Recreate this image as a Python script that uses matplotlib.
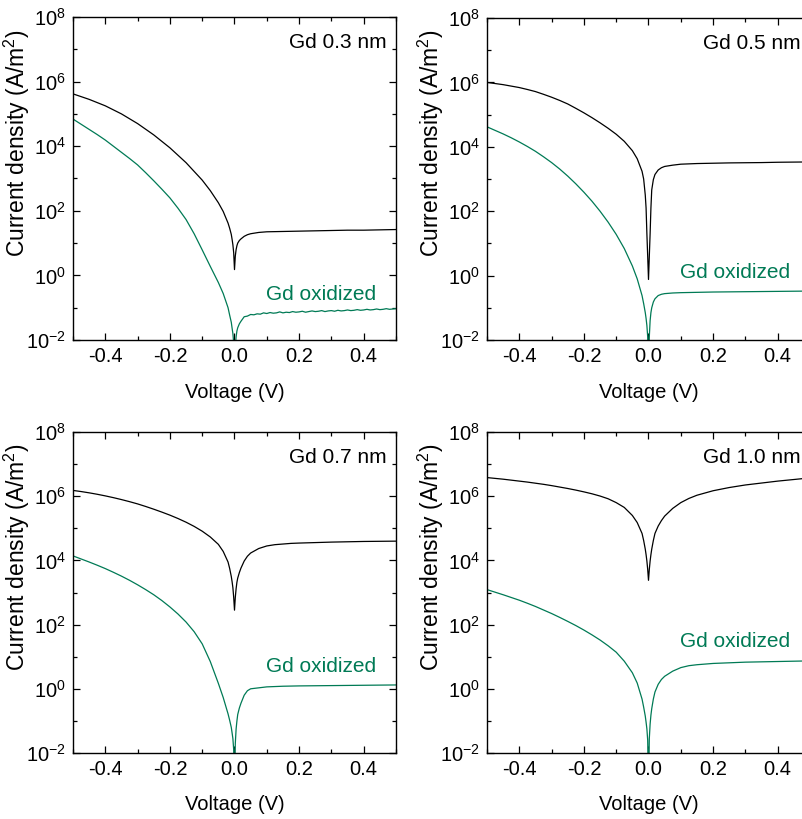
import numpy as np
import matplotlib.pyplot as plt
from matplotlib.ticker import FixedLocator, FixedFormatter, MultipleLocator, FormatStrFormatter, NullFormatter

plt.rcParams['font.family'] = ['Liberation Sans', 'DejaVu Sans']
plt.rcParams['mathtext.fontset'] = 'custom'
plt.rcParams['mathtext.rm'] = 'Liberation Sans'
plt.rcParams['mathtext.it'] = 'Liberation Sans:italic'
plt.rcParams['mathtext.default'] = 'regular'

GREEN = '#007A55'

# Bias voltage (V), shared by most curves
voltage = [-0.5, -0.475, -0.45, -0.425, -0.4, -0.375, -0.35, -0.325, -0.3, -0.275,
           -0.25, -0.225, -0.2, -0.175, -0.15, -0.125, -0.1, -0.075, -0.05, -0.035,
           -0.02, -0.015, -0.01, -0.0075, -0.005, -0.0025, 0.0,
           0.0025, 0.005, 0.0075, 0.01, 0.015, 0.02, 0.03, 0.04, 0.05, 0.075,
           0.1, 0.125, 0.15, 0.175, 0.2, 0.25, 0.3, 0.35, 0.4, 0.45, 0.5]

# log10 of current density (A/m^2)
log_j_03 = [5.62, 5.535, 5.45, 5.35, 5.25, 5.125, 5.00, 4.85, 4.70, 4.525,
            4.35, 4.15, 3.95, 3.72, 3.49, 3.22, 2.95, 2.625, 2.25, 1.98,
            1.62, 1.46, 1.27, 1.12, 0.95, 0.70, 0.18,
            0.60, 0.80, 0.92, 1.00, 1.08, 1.13, 1.21, 1.26, 1.29, 1.33,
            1.35, 1.355, 1.36, 1.365, 1.37, 1.38, 1.39, 1.40, 1.40, 1.41, 1.42]

# Gd 0.3 nm oxidized sample: finer, noisier sweep on the positive side
voltage_ox_03 = [-0.5, -0.475, -0.45, -0.425, -0.4, -0.375, -0.35, -0.325, -0.3, -0.275,
                 -0.25, -0.225, -0.2, -0.175, -0.15, -0.125, -0.1, -0.075, -0.05, -0.035,
                 -0.02, -0.015, -0.01, -0.0075, -0.005, -0.0025, 0.0,
                 0.0025, 0.005, 0.0075, 0.01, 0.015, 0.02,
                 0.03, 0.04, 0.05, 0.06, 0.07, 0.08, 0.09, 0.10, 0.11, 0.12,
                 0.13, 0.14, 0.15, 0.16, 0.17, 0.18, 0.19, 0.20, 0.21, 0.22,
                 0.23, 0.24, 0.25, 0.26, 0.27, 0.28, 0.29, 0.30, 0.31, 0.32,
                 0.33, 0.34, 0.35, 0.36, 0.37, 0.38, 0.39, 0.40, 0.41, 0.42,
                 0.43, 0.44, 0.45, 0.46, 0.47, 0.48, 0.49, 0.50]
log_j_ox_03 = [4.84, 4.68, 4.52, 4.36, 4.19, 4.00, 3.81, 3.62, 3.42, 3.18,
               2.93, 2.67, 2.40, 2.08, 1.73, 1.29, 0.79, 0.28, -0.22, -0.56,
               -1.00, -1.23, -1.45, -1.63, -1.80, -2.10, -2.60,
               -2.20, -1.90, -1.72, -1.62, -1.50, -1.42,
               -1.28, -1.26, -1.21, -1.22, -1.19, -1.20, -1.16, -1.18, -1.15, -1.17,
               -1.16, -1.13, -1.16, -1.14, -1.15, -1.12, -1.14, -1.13, -1.11, -1.14,
               -1.12, -1.10, -1.12, -1.11, -1.09, -1.12, -1.10, -1.09, -1.11, -1.08,
               -1.10, -1.09, -1.07, -1.09, -1.08, -1.06, -1.08, -1.07, -1.05, -1.07,
               -1.06, -1.04, -1.06, -1.05, -1.03, -1.05, -1.04, -1.03]

log_j_05 = [6.00, 5.965, 5.93, 5.885, 5.84, 5.78, 5.715, 5.63, 5.54, 5.44,
            5.33, 5.195, 5.055, 4.905, 4.745, 4.575, 4.39, 4.17, 3.88, 3.63,
            3.24, 3.00, 2.50, 2.10, 1.30, 0.60, -0.12,
            0.60, 1.30, 2.10, 2.66, 2.98, 3.14, 3.28, 3.35, 3.39, 3.43,
            3.46, 3.47, 3.48, 3.485, 3.49, 3.50, 3.505, 3.51, 3.52, 3.525, 3.53]
log_j_ox_05 = [4.62, 4.51, 4.40, 4.28, 4.15, 4.01, 3.86, 3.69, 3.51, 3.31,
               3.09, 2.85, 2.59, 2.31, 2.00, 1.66, 1.28, 0.84, 0.30, -0.10,
               -0.62, -0.87, -1.15, -1.33, -1.55, -1.90, -3.00,
               -1.90, -1.40, -1.15, -1.00, -0.82, -0.72, -0.62, -0.58, -0.56, -0.54,
               -0.53, -0.525, -0.52, -0.515, -0.51, -0.505, -0.50, -0.495, -0.49, -0.485, -0.48]

log_j_07 = [6.18, 6.145, 6.105, 6.06, 6.01, 5.955, 5.895, 5.83, 5.76, 5.68,
            5.595, 5.505, 5.41, 5.305, 5.19, 5.06, 4.91, 4.73, 4.50, 4.28,
            3.95, 3.75, 3.50, 3.34, 3.15, 2.85, 2.45,
            2.85, 3.12, 3.32, 3.45, 3.62, 3.76, 3.98, 4.13, 4.23, 4.37,
            4.45, 4.49, 4.51, 4.53, 4.54, 4.555, 4.57, 4.58, 4.59, 4.595, 4.60]
log_j_ox_07 = [4.14, 4.045, 3.95, 3.85, 3.745, 3.63, 3.51, 3.38, 3.24, 3.09,
               2.93, 2.75, 2.55, 2.33, 2.08, 1.78, 1.40, 0.85, 0.17, -0.27,
               -0.78, -0.98, -1.20, -1.37, -1.55, -1.90, -3.00,
               -1.70, -1.25, -1.00, -0.80, -0.60, -0.45, -0.20, -0.06, 0.00, 0.03,
               0.06, 0.07, 0.08, 0.085, 0.09, 0.095, 0.10, 0.105, 0.11, 0.115, 0.12]

log_j_10 = [6.58, 6.555, 6.53, 6.50, 6.47, 6.44, 6.405, 6.37, 6.33, 6.285,
            6.24, 6.19, 6.135, 6.075, 6.005, 5.92, 5.80, 5.65, 5.40, 5.18,
            4.84, 4.62, 4.35, 4.18, 3.98, 3.72, 3.38,
            3.72, 3.98, 4.18, 4.35, 4.62, 4.84, 5.07, 5.24, 5.38, 5.62,
            5.80, 5.93, 6.03, 6.10, 6.17, 6.27, 6.35, 6.41, 6.47, 6.52, 6.57]
log_j_ox_10 = [3.09, 3.01, 2.93, 2.845, 2.76, 2.665, 2.565, 2.455, 2.345, 2.225,
               2.10, 1.97, 1.83, 1.68, 1.52, 1.34, 1.14, 0.86, 0.50, 0.18,
               -0.32, -0.57, -0.85, -1.04, -1.25, -1.60, -3.00,
               -1.55, -1.10, -0.82, -0.62, -0.32, -0.10, 0.14, 0.29, 0.39, 0.55,
               0.66, 0.72, 0.75, 0.77, 0.79, 0.81, 0.83, 0.84, 0.85, 0.86, 0.87]

thickness_labels = ['Gd 0.3 nm', 'Gd 0.5 nm', 'Gd 0.7 nm', 'Gd 1.0 nm']
oxidized_label_y = [0.142, 0.209, 0.268, 0.346]

y_major = [1e-2, 1e0, 1e2, 1e4, 1e6, 1e8]
y_major_labels = [r'$10^{-2}$', r'$10^{0}$', r'$10^{2}$', r'$10^{4}$', r'$10^{6}$', r'$10^{8}$']
y_minor = [1e-1, 1e1, 1e3, 1e5, 1e7]

panels = [
    (voltage, log_j_03, voltage_ox_03, log_j_ox_03),
    (voltage, log_j_05, voltage, log_j_ox_05),
    (voltage, log_j_07, voltage, log_j_ox_07),
    (voltage, log_j_10, voltage, log_j_ox_10),
]

W, H = 803, 819
fig = plt.figure(figsize=(W / 100, H / 100), dpi=100)

# axes boxes in pixels: left, top, width, height (right column runs past the edge)
boxes = [(73, 17, 323, 323), (487, 18, 323, 322), (73, 432, 323, 321), (487, 432, 323, 321)]

for i, (box, (v_b, lj_b, v_g, lj_g)) in enumerate(zip(boxes, panels)):
    left, top, w, h = box
    ax = fig.add_axes([left / W, (H - top - h) / H, w / W, h / H])

    ax.plot(v_b, 10 ** np.array(lj_b), color='black', lw=0.9)
    ax.plot(v_g, 10 ** np.array(lj_g), color=GREEN, lw=0.9)

    ax.set_yscale('log')
    ax.set_xlim(-0.5, 0.5)
    ax.set_ylim(1e-2, 1e8)

    ax.xaxis.set_major_locator(MultipleLocator(0.2))
    ax.xaxis.set_minor_locator(MultipleLocator(0.1))
    ax.xaxis.set_major_formatter(FormatStrFormatter('%.1f'))
    ax.yaxis.set_major_locator(FixedLocator(y_major))
    ax.yaxis.set_major_formatter(FixedFormatter(y_major_labels))
    ax.yaxis.set_minor_locator(FixedLocator(y_minor))
    ax.yaxis.set_minor_formatter(NullFormatter())

    ax.tick_params(which='both', direction='in', top=True, right=True, width=0.9,
                   labelsize=14.5)
    ax.tick_params(which='major', length=5, pad=5)
    ax.tick_params(which='minor', length=3)
    for spine in ax.spines.values():
        spine.set_linewidth(1.0)

    ax.set_xlabel('Voltage (V)', fontsize=14.5)
    ax.set_ylabel('Current density (A/m$^2$)', fontsize=16.5)
    ax.xaxis.set_label_coords(0.5, -0.132)
    ax.yaxis.set_label_coords(-0.127, 0.61)

    ax.text(0.972, 0.92, thickness_labels[i], transform=ax.transAxes,
            ha='right', va='center', fontsize=15)
    ax.text(0.94, oxidized_label_y[i], 'Gd oxidized', transform=ax.transAxes,
            ha='right', va='center', fontsize=15, color=GREEN)

fig.savefig('out.png', dpi=100)
plt.close(fig)
